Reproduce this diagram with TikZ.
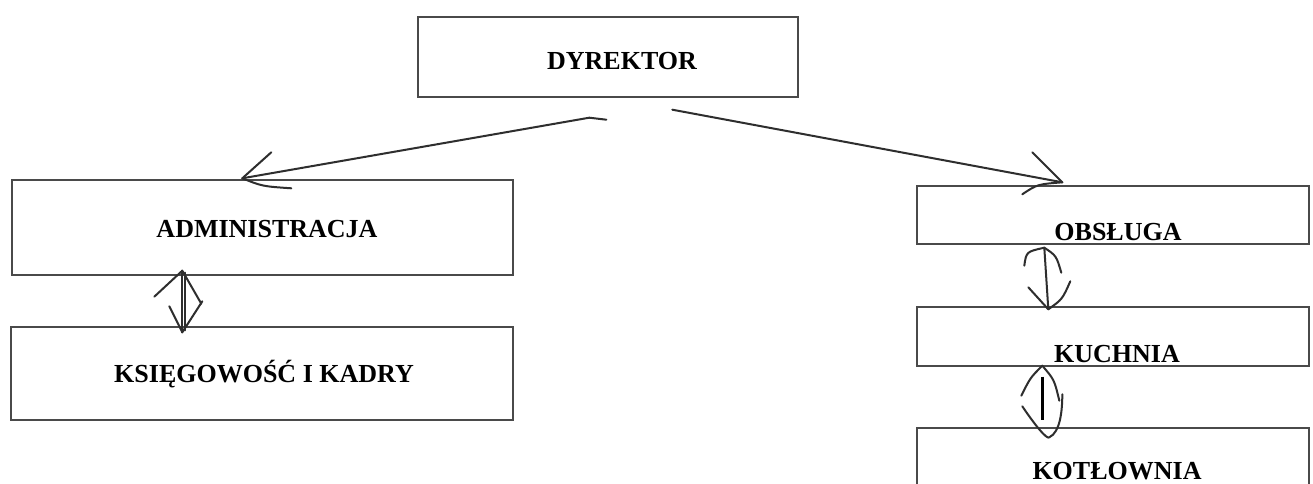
\documentclass[tikz,border=0pt]{standalone}
\usepackage{fontspec}
\setmainfont{Liberation Serif}
\usetikzlibrary{calc}
\definecolor{boxgray}{HTML}{4A4A4A}
\definecolor{inkgray}{HTML}{2E2E2E}
\begin{document}
\begin{tikzpicture}[x=1pt,y=-1pt,
  box/.style={draw=boxgray,line width=1.4pt,inner sep=0pt,rectangle},
  lbl/.style={font=\fontsize{26}{30}\selectfont\bfseries,text=black,anchor=base,inner sep=0pt},
  conn/.style={draw=inkgray,line width=2pt,line cap=round},
  barb/.style={draw=inkgray,line width=2pt,line cap=round,line join=round}]
\clip (0,0) rectangle (1313,484);
\fill[white] (0,0) rectangle (1313,484);
% boxes
\node[box,minimum width=380pt,minimum height=80pt] (dyr) at (608,57) {};
\node[box,minimum width=501pt,minimum height=95pt] (adm) at (262.5,227.5) {};
\node[box,minimum width=502pt,minimum height=93pt] (ksi) at (262,373.5) {};
\node[box,minimum width=392pt,minimum height=58pt] (obs) at (1113,215) {};
\node[box,minimum width=392pt,minimum height=59pt] (kuc) at (1113,336.5) {};
\node[box,minimum width=392pt,minimum height=92pt] (kot) at (1113,474) {};
% labels
\node[lbl] (tdyr) at (622,70) {DYREKTOR};
\node[lbl] (tadm) at (267,237) {ADMINISTRACJA};
\node[lbl] (tksi) at (264,382) {KSIĘGOWOŚĆ I KADRY};
\node[lbl] (tobs) at (1118,240) {OBSŁUGA};
\node[lbl] (tkuc) at (1117,362) {KUCHNIA};
\node[lbl] (tkot) at (1117,479) {KOTŁOWNIA};
% connector end points
\coordinate (s1) at ($(dyr.south west)+(172,20)$);
\coordinate (t1) at ($(adm.north west)+(231,-1)$);
\coordinate (s2) at ($(dyr.south west)+(255,12)$);
\coordinate (t2) at ($(obs.north west)+(146,-3)$);
\coordinate (a1) at ($(adm.south west)+(171,-5)$);
\coordinate (b1) at ($(ksi.north west)+(172,6)$);
\coordinate (a2) at ($(obs.south west)+(128,3)$);
\coordinate (b2) at ($(kuc.north west)+(132,3)$);
\coordinate (a3) at ($(kuc.south west)+(126,-1)$);
\coordinate (b3) at ($(kot.north west)+(126,-5)$);
% DYREKTOR -> ADMINISTRACJA
\draw[conn] (s1) -- (t1);
\draw[conn] (s1) -- ++(17,2);
\draw[barb] ($(t1)+(29,-26)$) -- (t1) .. controls ($(t1)+(20,8)$) .. ($(t1)+(49,10)$);
% DYREKTOR -> OBSLUGA
\draw[conn] (s2) -- (t2);
\draw[barb] ($(t2)+(-30,-30)$) -- (t2) .. controls ($(t2)+(-25,2)$) .. ($(t2)+(-40,12)$);
% ADMINISTRACJA <-> KSIEGOWOSC
\draw[conn] (a1) -- (b1);
\draw[conn] ($(a1)+(3,2)$) -- ($(b1)+(3,-2)$);
\draw[barb] ($(a1)+(-28,26)$) -- (a1) -- ($(a1)+(19,33)$);
\draw[barb] ($(b1)+(-13,-26)$) -- (b1) -- ($(b1)+(20,-31)$);
% OBSLUGA <-> KUCHNIA
\draw[conn] (a2) -- (b2);
\draw[barb] ($(a2)+(-20,18)$) .. controls ($(a2)+(-18,4)$) .. (a2) .. controls ($(a2)+(12,8)$) .. ($(a2)+(17,25)$);
\draw[barb] ($(b2)+(-20,-22)$) -- (b2) .. controls ($(b2)+(14,-10)$) .. ($(b2)+(22,-28)$);
% KUCHNIA <-> KOTLOWNIA
\draw[draw=black,line width=3pt] ($(a3)+(0,11)$) -- ($(b3)+(0,-2)$);
\draw[barb] ($(a3)+(-21,30)$) .. controls ($(a3)+(-12,12)$) .. (a3) .. controls ($(a3)+(12,14)$) .. ($(a3)+(17,35)$);
\draw[barb] ($(b3)+(-20,-16)$) .. controls ($(b3)+(-8,2)$) and ($(b3)+(5,18)$) .. ($(b3)+(7,15)$) .. controls ($(b3)+(18,10)$) and ($(b3)+(20,-12)$) .. ($(b3)+(20,-28)$);
\end{tikzpicture}
\end{document}
